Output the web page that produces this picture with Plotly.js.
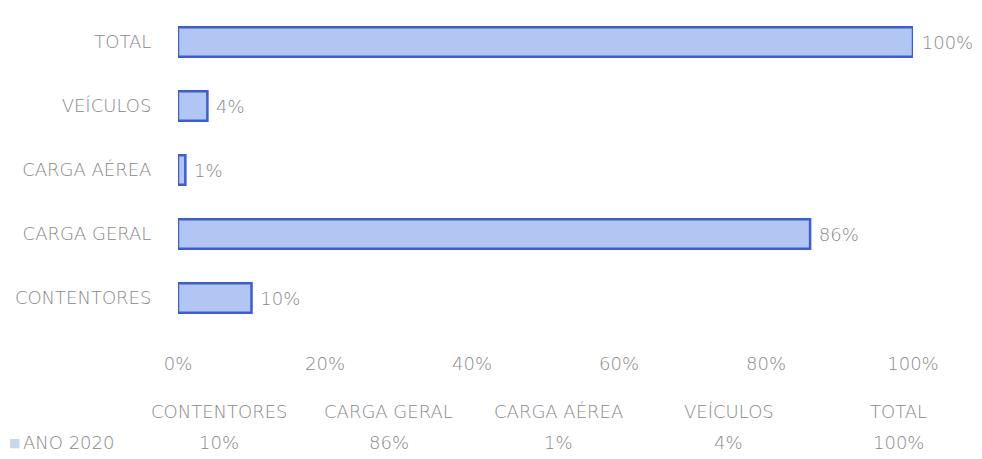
<!DOCTYPE html>
<html>
<head>
<meta charset="utf-8">
<script src="https://cdn.plot.ly/plotly-3.0.1.min.js"></script>
<style>html,body{margin:0;padding:0;background:#fff;}#chart{width:982px;height:459px;}</style>
</head>
<body>
<div id="chart"></div>
<script>
var categories = ['CONTENTORES', 'CARGA GERAL', 'CARGA AÉREA', 'VEÍCULOS', 'TOTAL'];
var values = [10, 86, 1, 4, 100];
var seriesName = 'ANO 2020';
var xTickVals = [0, 20, 40, 60, 80, 100];
var xTickText = ['0%', '20%', '40%', '60%', '80%', '100%'];

var txtColor = '#888888';
var fontFam = 'DejaVu Sans, sans-serif';
var fw = 200;
var fs = 18;

var trace = {
  type: 'bar',
  orientation: 'h',
  y: categories,
  x: values,
  width: 0.46,
  marker: { color: '#b2c6f3', line: { color: '#3d5ecb', width: 2.5 } },
  text: values.map(function (v) { return '\u00a0' + v + '%'; }),
  textposition: 'outside',
  cliponaxis: false,
  textfont: { family: fontFam, size: fs, color: txtColor, weight: fw },
  hoverinfo: 'none'
};

var annotations = [];
var colStart = 0.056, colStep = 0.231;
categories.forEach(function (c, i) {
  annotations.push({
    xref: 'paper', yref: 'paper', x: colStart + i * colStep, y: -0.256,
    text: c, showarrow: false, xanchor: 'center', yanchor: 'middle',
    font: { family: fontFam, size: fs, color: txtColor, weight: fw }
  });
  annotations.push({
    xref: 'paper', yref: 'paper', x: colStart + i * colStep, y: -0.353,
    text: values[i] + '%', showarrow: false, xanchor: 'center', yanchor: 'middle',
    font: { family: fontFam, size: fs, color: txtColor, weight: fw }
  });
});
annotations.push({
  xref: 'paper', yref: 'paper', x: -0.233, y: -0.353,
  text: '■', showarrow: false, xanchor: 'left', yanchor: 'middle',
  font: { family: fontFam, size: 12, color: '#c4d8ee' }
});
annotations.push({
  xref: 'paper', yref: 'paper', x: -0.214, y: -0.353,
  text: seriesName, showarrow: false, xanchor: 'left', yanchor: 'middle',
  font: { family: fontFam, size: fs, color: txtColor, weight: fw }
});

var layout = {
  width: 982, height: 459,
  margin: { l: 178, r: 69, t: 10, b: 129 },
  paper_bgcolor: '#ffffff', plot_bgcolor: '#ffffff',
  showlegend: false,
  xaxis: {
    range: [0, 100], tickvals: xTickVals, ticktext: xTickText,
    showgrid: false, zeroline: false, showline: false,
    ticks: 'outside', ticklen: 17, tickcolor: 'rgba(0,0,0,0)',
    tickfont: { family: fontFam, size: fs, color: txtColor, weight: fw }
  },
  yaxis: {
    type: 'category', categoryorder: 'array', categoryarray: categories,
    range: [-0.5, 4.5],
    showgrid: false, zeroline: false, showline: false,
    ticks: 'outside', ticklen: 22, tickcolor: 'rgba(0,0,0,0)',
    tickfont: { family: fontFam, size: fs, color: txtColor, weight: fw }
  },
  annotations: annotations
};

Plotly.newPlot('chart', [trace], layout, { displayModeBar: false, staticPlot: true });
</script>
</body>
</html>
